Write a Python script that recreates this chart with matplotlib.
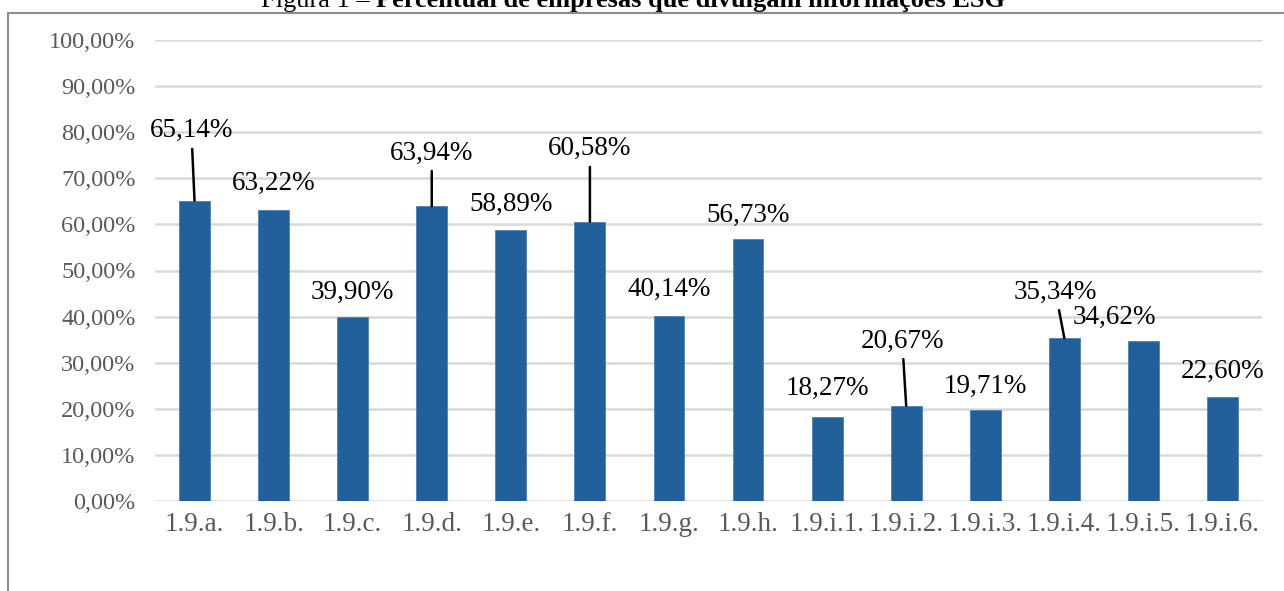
import matplotlib.pyplot as plt
from matplotlib.patches import Rectangle
from matplotlib.ticker import FuncFormatter

# dados
itens = ['1.9.a.', '1.9.b.', '1.9.c.', '1.9.d.', '1.9.e.', '1.9.f.', '1.9.g.',
         '1.9.h.', '1.9.i.1.', '1.9.i.2.', '1.9.i.3.', '1.9.i.4.', '1.9.i.5.', '1.9.i.6.']
percentual = [65.14, 63.22, 39.90, 63.94, 58.89, 60.58, 40.14,
              56.73, 18.27, 20.67, 19.71, 35.34, 34.62, 22.60]

# posicao dos rotulos (x, y em unidades do eixo) e se tem linha de chamada
pos_rotulo = [(-0.04, 80.3), (1, 68.8), (2, 45.3), (3, 75.5), (4, 64.4), (5, 76.4), (6, 45.8),
              (7, 62.0), (8, 24.5), (8.95, 34.7), (10, 24.9), (10.89, 45.3), (11.63, 39.9), (13, 28.2)]
com_linha = [True, False, False, True, False, True, False,
             False, False, True, False, True, False, False]

def fmt_pct(v, pos=None):
    return ('%.2f%%' % v).replace('.', ',')

plt.rcParams['font.family'] = ['Liberation Serif', 'DejaVu Serif']

fig = plt.figure(figsize=(12.84, 5.91), dpi=100)
ax = fig.add_axes([155/1284, 1 - 501/591, 1107/1284, 461/591])

x = range(len(itens))
ax.bar(x, percentual, width=0.39, color='#22609b', edgecolor='#4a82b8', linewidth=0.6, zorder=3)

ax.set_xlim(-0.5, len(itens) - 0.5)
ax.set_ylim(0, 100)
ax.set_yticks(range(0, 101, 10))
ax.yaxis.set_major_formatter(FuncFormatter(fmt_pct))
ax.set_xticks(list(x))
ax.set_xticklabels(itens)
ax.tick_params(axis='y', length=0, pad=14, labelsize=17.5, labelcolor='#595959')
ax.tick_params(axis='x', length=0, pad=8, labelsize=19.5, labelcolor='#595959')
ax.grid(axis='y', color='#d9d9d9', linewidth=1.8, zorder=0)
for s in ax.spines.values():
    s.set_visible(False)

for i, v in enumerate(percentual):
    tx, ty = pos_rotulo[i]
    if com_linha[i]:
        ax.annotate(fmt_pct(v), xy=(i, v), xytext=(tx, ty), ha='center', va='center',
                    fontsize=19.5, color='black',
                    arrowprops=dict(arrowstyle='-', color='black', lw=1.8, shrinkA=2, shrinkB=0))
    else:
        ax.text(tx, ty, fmt_pct(v), ha='center', va='center', fontsize=19.5, color='black')

# moldura do grafico
fig.patches.append(Rectangle((8/1284, -0.1), 1.2, 1 - 13/591 + 0.1, transform=fig.transFigure,
                             fill=False, edgecolor='#8c8c8c', linewidth=1.5))

# titulo cortado no topo, centrado em x=633 px
yb = 1 - 7/591
t1 = fig.text(0, yb, 'Figura 1 – ', ha='left', va='baseline', fontsize=19)
t2 = fig.text(0, yb, 'Percentual de empresas que divulgam informações ESG',
              ha='left', va='baseline', fontsize=19, fontweight='bold')
r = fig.canvas.get_renderer()
w1 = t1.get_window_extent(r).width
w2 = t2.get_window_extent(r).width
x0 = 633 - (w1 + w2) / 2
t1.set_x(x0 / 1284)
t2.set_x((x0 + w1) / 1284)

fig.savefig('out.png', dpi=100)
